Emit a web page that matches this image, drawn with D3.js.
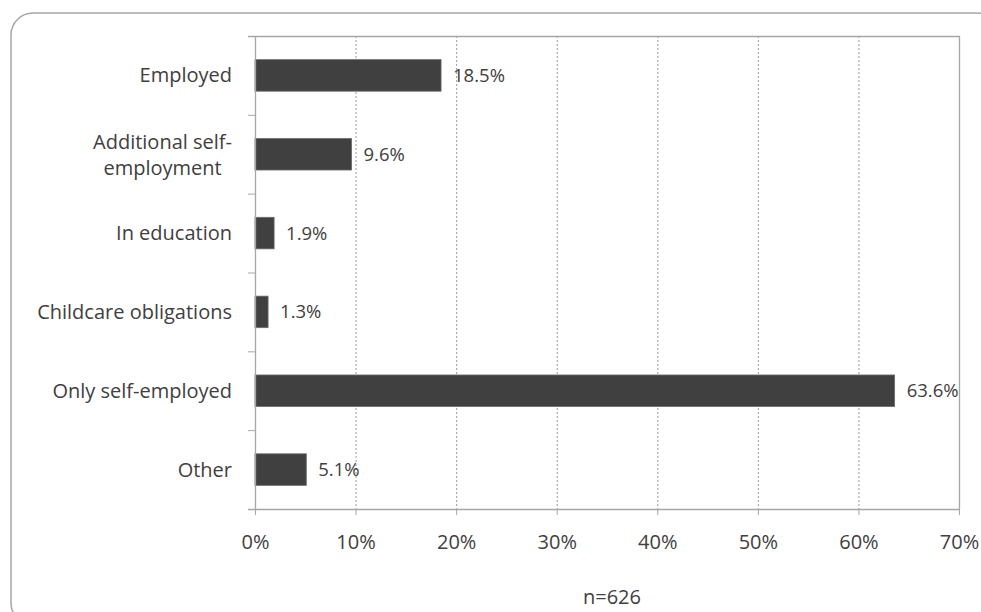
<!DOCTYPE html>
<html>
<head>
<meta charset="utf-8">
<script src="https://cdn.jsdelivr.net/npm/d3@7"></script>
<style>
    body { margin: 0; background: #fff; }
    svg text { font-family: "Open Sans", sans-serif; fill: #404040; }
</style>
</head>
<body>
<script>
// chart values
var categories = ["Employed", "Additional self-employment", "In education",
    "Childcare obligations", "Only self-employed", "Other"];
var shares = [18.5, 9.6, 1.9, 1.3, 63.6, 5.1];
var xTicks = [0, 10, 20, 30, 40, 50, 60, 70];
var note = "n=626";

var W = 981, H = 612;
var margin = {top: 36, right: 22, bottom: 103, left: 255},
    width = W - margin.left - margin.right,
    height = H - margin.top - margin.bottom;

var svg = d3.select("body").append("svg")
    .attr("width", W)
    .attr("height", H);

// rounded frame round the whole chart
svg.append("rect")
    .attr("x", 11).attr("y", 13)
    .attr("width", 988).attr("height", 612)
    .attr("rx", 22).attr("ry", 22)
    .attr("fill", "none")
    .attr("stroke", "#a6a6a6")
    .attr("stroke-width", 1.5);

var g = svg.append("g")
    .attr("transform", "translate(" + margin.left + "," + margin.top + ")");

var xScale = d3.scaleLinear().domain([0, 70]).range([0, width]);
var yScale = d3.scaleBand().domain(categories).range([0, height])
    .paddingInner(0.6).paddingOuter(0.3);
var band = d3.scaleBand().domain(categories).range([0, height]);

// dashed gridlines
g.selectAll("line.grid")
    .data(xTicks.slice(1, -1))
    .enter().append("line")
    .attr("class", "grid")
    .attr("x1", function(d) { return xScale(d) + 0.5; })
    .attr("x2", function(d) { return xScale(d) + 0.5; })
    .attr("y1", 0).attr("y2", height)
    .attr("stroke", "#9a9a9a")
    .attr("stroke-dasharray", "2,2");

// plot frame: top and right edges
g.append("path")
    .attr("d", "M-7,0.5H" + (xScale(70) + 0.5) + "V" + height)
    .attr("fill", "none")
    .attr("stroke", "#a6a6a6")
    .attr("stroke-width", 1.3);

// bars
g.selectAll("rect.bar")
    .data(shares)
    .enter().append("rect")
    .attr("class", "bar")
    .attr("x", xScale(0))
    .attr("y", function(d, i) { return yScale(categories[i]); })
    .attr("width", function(d) { return xScale(d) - xScale(0); })
    .attr("height", yScale.bandwidth())
    .attr("fill", "#404040")
    .attr("stroke", "#6a6a6a")
    .attr("stroke-width", 0.8);

// value labels
g.selectAll("text.val")
    .data(shares)
    .enter().append("text")
    .attr("class", "val")
    .attr("x", function(d) { return xScale(d) + 12; })
    .attr("y", function(d, i) {
        return yScale(categories[i]) + yScale.bandwidth() / 2;
    })
    .attr("dy", "0.35em")
    .style("font-size", "18.5px")
    .text(function(d) { return d.toFixed(1) + "%"; });

// x axis
var xAxis = d3.axisBottom(xScale).tickValues(xTicks)
    .tickSize(6).tickPadding(20)
    .tickFormat(function(d) { return d + "%"; });
var xg = g.append("g")
    .attr("transform", "translate(0," + height + ")")
    .call(xAxis);
xg.select(".domain").attr("stroke", "#a6a6a6").attr("stroke-width", 1.3)
    .attr("d", "M-7,0.5H" + (xScale(70) + 0.5));
xg.selectAll(".tick line").attr("stroke", "#a6a6a6");
xg.selectAll(".tick text").style("font-size", "20px").attr("fill", "#404040");

// y axis: ticks sit on the band boundaries
var yg = g.append("g");
yg.append("line")
    .attr("x1", 0.5).attr("x2", 0.5)
    .attr("y1", 0).attr("y2", height)
    .attr("stroke", "#a6a6a6").attr("stroke-width", 1.3);
yg.selectAll("line.ytick")
    .data(d3.range(categories.length + 1))
    .enter().append("line")
    .attr("class", "ytick")
    .attr("x1", -7).attr("x2", 0)
    .attr("y1", function(i) { return i * band.step() + 0.5; })
    .attr("y2", function(i) { return i * band.step() + 0.5; })
    .attr("stroke", "#a6a6a6");

// category labels, wrapped like the original
var labelLines = {"Additional self-employment": ["Additional self-", "employment"]};
var labels = yg.selectAll("text.cat")
    .data(categories)
    .enter().append("text")
    .attr("class", "cat")
    .attr("text-anchor", "end")
    .style("font-size", "20px")
    .attr("transform", function(d) {
        return "translate(-23," + (band(d) + band.bandwidth() / 2) + ")";
    });
labels.each(function(d) {
    var lines = labelLines[d] || [d];
    var t = d3.select(this);
    if (lines.length > 1) {
        t.attr("text-anchor", "middle");
        lines.forEach(function(s, k) {
            t.append("tspan").attr("x", 0)
                .attr("y", (k - (lines.length - 1) / 2) * 26 + 1)
                .attr("dy", "0.35em").text(s);
        });
        var bb = this.getBBox();
        t.attr("transform", "translate(" + (-23 - bb.width / 2) + "," +
            (band(d) + band.bandwidth() / 2) + ")");
    } else {
        t.append("tspan").attr("x", 0).attr("y", 0).attr("dy", "0.35em").text(d);
    }
});

// sample size note
svg.append("text")
    .attr("x", margin.left + width / 2 + 5)
    .attr("y", 604)
    .attr("text-anchor", "middle")
    .style("font-size", "20px")
    .text(note);
</script>
</body>
</html>
